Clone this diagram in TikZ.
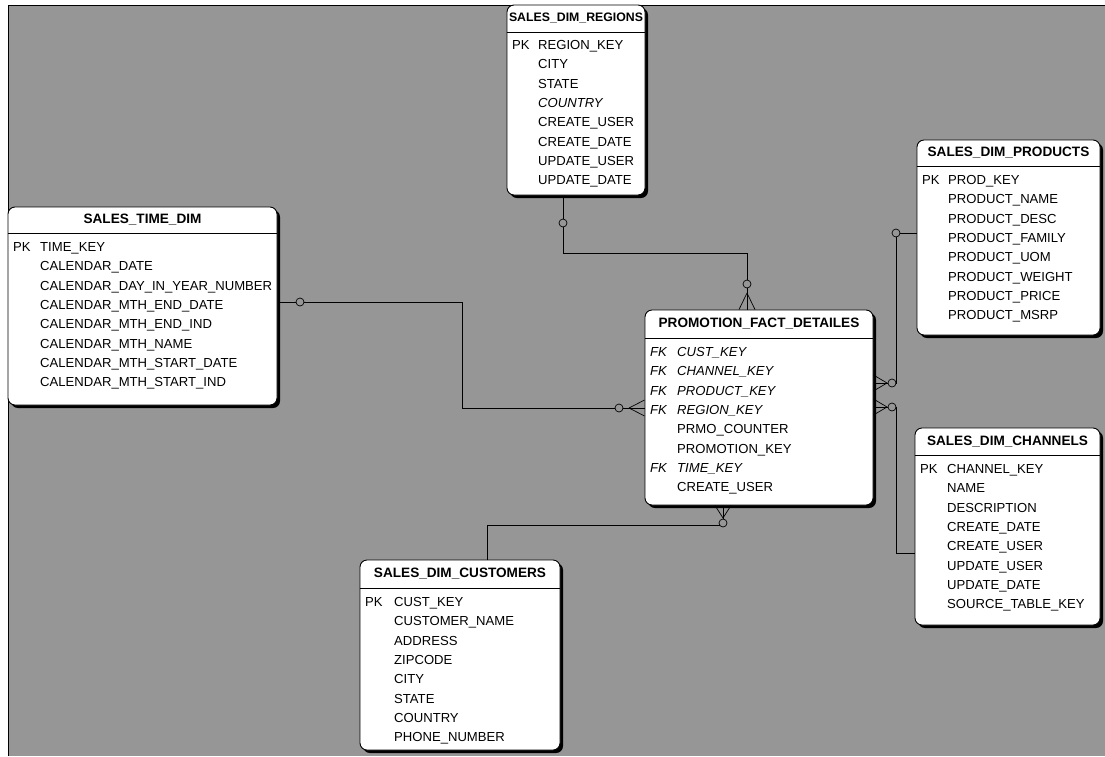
\documentclass[tikz,border=0pt]{standalone}
\usepackage{fontspec}
\setmainfont{Liberation Sans}
\usetikzlibrary{shadows}
\definecolor{bg}{RGB}{150,150,150}
\tikzset{
  tbl/.style={draw=black, line width=0.9pt, fill=white, rounded corners=7pt, inner sep=0pt,
    drop shadow={shadow xshift=3pt, shadow yshift=-3pt, fill=black, opacity=1}},
  ttl/.style={font=\fontsize{13.6}{16}\selectfont\bfseries, inner sep=0pt},
  fld/.style={font=\fontsize{13.1}{15}\selectfont, inner sep=0pt, anchor=base west},
  conn/.style={line width=0.7pt, black},
  opt/.style={circle, draw=black, line width=0.7pt, fill=bg, inner sep=0pt, minimum size=8pt},
}
\newcommand{\ertable}[8]{%
  \node[tbl, minimum width={#4pt-#2pt}, minimum height={#5pt-#3pt}] (#1) at ({(#2+#4)/2},{(#3+#5)/2}) {};
  \node[ttl] (#1-t) at ({(#2+#4)/2},#7) {#8};
  \draw[line width=0.9pt] (#1.west |- 0,#6) -- (#1.east |- 0,#6);
}
\newcommand{\errows}[5]{%
  \foreach \k/\t/\f [count=\i from 0] in {#5} {
    \node[fld] (#1-k\i) at (#2+5, {#4+19.3*\i+4.6}) {\f\k};
    \node[fld] (#1-f\i) at (#2+#3, {#4+19.3*\i+4.6}) {\f\t};
  }
}
\begin{document}
\begin{tikzpicture}[x=1pt,y=-1pt]
\useasboundingbox (0,0) rectangle (1105,756);
\fill[white] (0,0) rectangle (1105,756);
\fill[bg] (8,5) rectangle (1105,756);
\draw[line width=1pt] (8,756) -- (8,5) -- (1105,5);

% connectors (drawn first, under the tables)
\draw[conn] (277,302) -- (462,302) |- (645,408);
\draw[conn] (563,195) -- (563,253) -| (747,310);
\draw[conn] (917,233) -| (896,383) -- (873,383);
\draw[conn] (915,553) -| (896,407) -- (873,407);
\draw[conn] (487,560) |- (723,525) -- (723,505);

% tables
\ertable{time}{8}{207}{277}{405}{233}{220}{SALES\_TIME\_DIM}
\errows{time}{8}{32}{247}{PK/TIME\_KEY/\upshape, /CALENDAR\_DATE/\upshape, /CALENDAR\_DAY\_IN\_YEAR\_NUMBER/\upshape, /CALENDAR\_MTH\_END\_DATE/\upshape, /CALENDAR\_MTH\_END\_IND/\upshape, /CALENDAR\_MTH\_NAME/\upshape, /CALENDAR\_MTH\_START\_DATE/\upshape, /CALENDAR\_MTH\_START\_IND/\upshape}

\ertable{regions}{507}{5}{645}{195}{32}{18}{\fontsize{12.3}{14}\selectfont SALES\_DIM\_REGIONS}
\errows{regions}{507}{31}{45}{PK/REGION\_KEY/\upshape, /CITY/\upshape, /STATE/\upshape, /COUNTRY/\itshape, /CREATE\_USER/\upshape, /CREATE\_DATE/\upshape, /UPDATE\_USER/\upshape, /UPDATE\_DATE/\upshape}

\ertable{products}{917}{140}{1100}{335}{166}{153}{SALES\_DIM\_PRODUCTS}
\errows{products}{917}{31}{180}{PK/PROD\_KEY/\upshape, /PRODUCT\_NAME/\upshape, /PRODUCT\_DESC/\upshape, /PRODUCT\_FAMILY/\upshape, /PRODUCT\_UOM/\upshape, /PRODUCT\_WEIGHT/\upshape, /PRODUCT\_PRICE/\upshape, /PRODUCT\_MSRP/\upshape}

\ertable{fact}{645}{310}{873}{505}{338}{324}{PROMOTION\_FACT\_DETAILES}
\errows{fact}{645}{32}{352}{FK/CUST\_KEY/\itshape, FK/CHANNEL\_KEY/\itshape, FK/PRODUCT\_KEY/\itshape, FK/REGION\_KEY/\itshape, /PRMO\_COUNTER/\upshape, /PROMOTION\_KEY/\upshape, FK/TIME\_KEY/\itshape, /CREATE\_USER/\upshape}

\ertable{channels}{915}{428}{1100}{625}{455}{442}{SALES\_DIM\_CHANNELS}
\errows{channels}{915}{32}{469}{PK/CHANNEL\_KEY/\upshape, /NAME/\upshape, /DESCRIPTION/\upshape, /CREATE\_DATE/\upshape, /CREATE\_USER/\upshape, /UPDATE\_USER/\upshape, /UPDATE\_DATE/\upshape, /SOURCE\_TABLE\_KEY/\upshape}

\ertable{customers}{360}{560}{560}{750}{588}{574}{SALES\_DIM\_CUSTOMERS}
\errows{customers}{360}{34}{602}{PK/CUST\_KEY/\upshape, /CUSTOMER\_NAME/\upshape, /ADDRESS/\upshape, /ZIPCODE/\upshape, /CITY/\upshape, /STATE/\upshape, /COUNTRY/\upshape, /PHONE\_NUMBER/\upshape}

% optional circles at the "one" ends
\node[opt] (o-time) at (300,302) {};
\node[opt] (o-reg) at (563,223) {};
\node[opt] (o-prod) at (896,233) {};

% crow's feet and circles at the fact table
\draw[conn] (629,408) -- (fact.west |- 0,400) (629,408) -- (fact.west |- 0,416);
\node[opt] (f-time) at (619,408) {};
\draw[conn] (747,293) -- (fact.north -| 739,0) (747,293) -- (fact.north -| 755,0);
\node[opt] (f-reg) at (747,284) {};
\draw[conn] (887,383) -- (fact.east |- 0,375) (887,383) -- (fact.east |- 0,391);
\node[opt] (f-prod) at (892,383) {};
\draw[conn] (887,407) -- (fact.east |- 0,399) (887,407) -- (fact.east |- 0,415);
\node[opt] (f-chan) at (892,407) {};
\draw[conn] (723,518) -- (fact.south -| 715,0) (723,518) -- (fact.south -| 731,0);
\node[opt] (f-cust) at (723,523) {};
\end{tikzpicture}
\end{document}
